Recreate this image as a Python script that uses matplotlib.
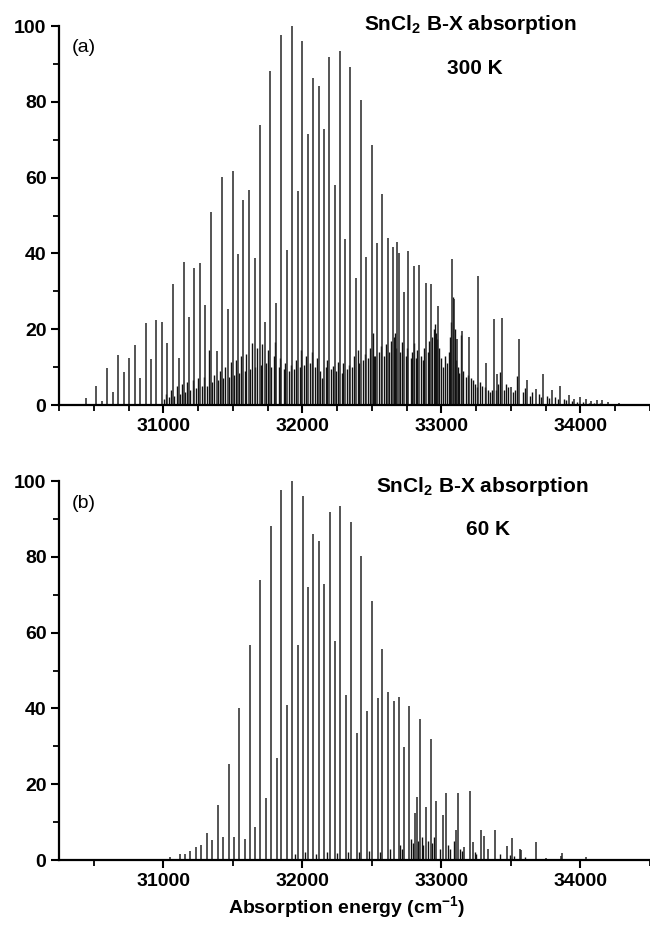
import matplotlib
matplotlib.use("Agg")
import matplotlib.pyplot as plt
from matplotlib.ticker import MultipleLocator

plt.rcParams['font.family'] = ['Liberation Sans', 'DejaVu Sans']
plt.rcParams['mathtext.fontset'] = 'custom'
plt.rcParams['mathtext.rm'] = 'Liberation Sans'
plt.rcParams['mathtext.bf'] = 'Liberation Sans:bold'
plt.rcParams['mathtext.default'] = 'bf'

# ---------------- Panel (a): 300 K ----------------
a_energy = [30362, 30441, 30519, 30560, 30596, 30639, 30676, 30717, 30753, 30796,
            30831, 30874, 30912, 30950, 30993, 31026, 31067, 31110, 31148, 31186,
            31224, 31264, 31303, 31343, 31384, 31420, 31462, 31498, 31538, 31575,
            31616, 31657, 31693, 31731, 31769, 31814, 31850, 31888, 31926, 31967,
            32001, 32040, 32079, 32119, 32155, 32193, 32232, 32269, 32309, 32346,
            32388, 32423, 32460, 32498, 32536, 32575, 32614, 32655, 32684, 32696,
            32733, 32762, 32803, 32841, 32889, 32922, 32976, 33077, 33089, 33112,
            33146, 33196, 33265, 33324, 33379, 33400, 33436, 33500, 33557, 33612,
            33679, 33734, 33798, 33855, 33914, 33957, 33998, 34038, 34079, 34117,
            34157, 34198, 34274]
a_int = [0.3, 1.8, 5.1, 1.0, 9.7, 3.5, 13.2, 8.7, 12.3, 15.8,
         7.0, 21.7, 12.1, 22.4, 22.0, 16.4, 32.0, 12.5, 37.8, 23.3,
         36.2, 37.4, 26.4, 51.0, 14.2, 60.2, 25.2, 61.7, 39.8, 54.0,
         56.7, 38.9, 74.0, 22.0, 88.2, 27.0, 97.6, 40.9, 100.0, 56.5,
         96.0, 71.6, 86.2, 84.2, 72.9, 91.7, 58.0, 93.5, 43.7, 89.3,
         33.4, 80.5, 39.1, 68.6, 42.7, 55.8, 44.0, 41.8, 43.0, 40.0,
         29.9, 40.6, 36.7, 37.0, 32.3, 31.9, 26.0, 38.4, 28.0, 17.3,
         19.5, 18.0, 34.0, 11.2, 22.8, 8.2, 22.9, 4.7, 17.4, 6.6,
         4.2, 8.2, 4.0, 5.0, 2.6, 1.6, 2.2, 1.6, 1.0, 1.3,
         1.3, 0.8, 0.5]

# hot-band lines visible only at 300 K
a_hot_energy = [31005, 31018, 31040, 31058, 31078, 31095, 31118, 31135, 31158, 31172,
                31195, 31212, 31235, 31250, 31275, 31290, 31312, 31326, 31352, 31368,
                31392, 31405, 31430, 31445, 31470, 31484, 31508, 31522, 31548, 31562,
                31585, 31598, 31625, 31636, 31662, 31676, 31700, 31712, 31740, 31752,
                31778, 31795, 31805, 31830, 31842, 31868, 31878, 31905, 31915, 31940,
                31952, 31980, 31990, 32015, 32028, 32055, 32066, 32092, 32105, 32130,
                32142, 32168, 32180, 32206, 32218, 32245, 32256, 32282, 32295, 32320,
                32332, 32358, 32370, 32400, 32410, 32435, 32448, 32472, 32485, 32505,
                32515, 32526, 32550, 32562, 32588, 32600, 32625, 32640, 32662, 32669,
                32675, 32705, 32715, 32745, 32752, 32780, 32792, 32800, 32815, 32825,
                32855, 32865, 32878, 32900, 32912, 32935, 32945, 32955, 32962, 32968,
                32985, 32995, 33010, 33025, 33040, 33055, 33065, 33072, 33084, 33095,
                33104, 33118, 33130, 33140, 33158, 33175, 33188, 33210, 33225, 33240,
                33255, 33280, 33295, 33310, 33335, 33350, 33365, 33395, 33410, 33420,
                33450, 33465, 33480, 33515, 33530, 33545, 33585, 33600, 33640, 33655,
                33700, 33715, 33760, 33775, 33820, 33835, 33880, 33895, 33940, 33975,
                34020, 34060, 34100, 34140]
a_hot_int = [1.5, 3.0, 2.0, 4.0, 2.5, 5.0, 3.0, 5.5, 3.5, 6.0,
             4.0, 6.5, 4.5, 7.0, 5.0, 7.5, 5.0, 14.5, 6.0, 8.0,
             6.5, 9.0, 7.0, 10.0, 7.5, 11.4, 8.0, 12.0, 8.5, 12.8,
             9.0, 13.5, 9.5, 16.3, 10.0, 15.0, 10.5, 16.0, 11.0, 14.5,
             10.0, 13.0, 16.7, 10.0, 12.3, 9.5, 11.0, 9.0, 10.5, 9.5,
             12.0, 10.0, 14.5, 10.5, 13.0, 11.0, 14.0, 10.0, 12.5, 9.0,
             7.0, 10.0, 12.0, 9.5, 10.3, 9.0, 11.4, 8.5, 11.0, 9.5,
             10.5, 10.0, 13.0, 14.5, 11.0, 12.0, 13.5, 12.5, 15.0, 19.0,
             13.0, 12.8, 14.0, 15.5, 13.0, 16.0, 14.0, 17.0, 18.0, 19.0,
             15.0, 14.0, 16.5, 13.0, 15.0, 12.5, 14.0, 16.3, 12.3, 14.5,
             13.0, 12.0, 15.0, 14.0, 17.0, 18.0, 20.0, 21.5, 19.0, 17.3,
             15.0, 12.3, 10.0, 13.0, 11.0, 14.0, 18.0, 22.0, 28.6, 20.0,
             12.0, 10.0, 8.5, 18.5, 9.0, 7.3, 8.0, 7.0, 6.6, 5.5,
             4.8, 6.0, 5.0, 4.8, 4.0, 3.5, 4.0, 4.0, 5.5, 8.8,
             4.0, 5.5, 4.8, 3.5, 4.0, 7.7, 3.5, 4.4, 2.4, 3.5,
             3.0, 2.0, 2.4, 1.8, 2.0, 1.5, 1.6, 1.2, 1.0, 0.8,
             0.7, 0.6, 0.5, 0.5]

# ---------------- Panel (b): 60 K ----------------
b_energy = [31048, 31119, 31155, 31195, 31236, 31274, 31312, 31350, 31390, 31431,
            31469, 31507, 31545, 31586, 31620, 31662, 31695, 31741, 31771, 31815,
            31850, 31891, 31928, 31968, 32002, 32042, 32080, 32119, 32157, 32196,
            32234, 32270, 32314, 32347, 32391, 32423, 32467, 32499, 32541, 32576,
            32617, 32657, 32693, 32734, 32769, 32810, 32821, 32848, 32889, 32924,
            32960, 33012, 33031, 33107, 33117, 33160, 33203, 33224, 33286, 33305,
            33333, 33388, 33474, 33505, 33564, 33575, 33679, 33750, 33860, 33869,
            34043]
b_int = [0.7, 1.5, 1.5, 2.4, 3.3, 4.0, 7.2, 5.3, 14.5, 6.2,
         25.3, 6.2, 40.0, 5.5, 56.7, 8.8, 73.9, 16.3, 88.2, 27.0,
         97.6, 40.9, 100.0, 56.6, 96.0, 71.9, 86.0, 84.2, 72.7, 91.7,
         57.8, 93.4, 43.5, 89.3, 33.6, 80.3, 39.4, 68.4, 42.8, 55.7,
         44.2, 42.0, 43.1, 29.9, 40.6, 12.3, 16.7, 37.1, 14.1, 31.8,
         15.6, 11.9, 17.6, 8.0, 17.6, 3.5, 18.3, 4.8, 7.9, 6.3,
         3.0, 7.9, 3.7, 5.7, 2.8, 2.6, 4.8, 0.6, 1.0, 1.8,
         0.9]
# weak lines near the baseline at 60 K
b_weak_energy = [31950, 32020, 32100, 32175, 32250, 32330, 32405, 32480, 32555, 32630,
                 32705, 32715, 32780, 32795, 32830, 32860, 32870, 32900, 32935, 32945,
                 32990, 33050, 33060, 33090, 33135, 33145, 33240, 33250, 33420, 33490,
                 33520, 33600]
b_weak_int = [1.5, 2.0, 1.5, 2.0, 1.8, 2.2, 2.0, 2.5, 2.0, 3.0,
              4.0, 3.0, 5.5, 4.5, 5.0, 6.0, 4.0, 5.0, 4.5, 6.0,
              3.0, 4.0, 3.0, 5.0, 3.0, 2.5, 2.0, 1.5, 1.5, 1.2,
              1.0, 0.8]

x_label = 'Absorption energy (cm$^{-1}$)'
title_text = 'SnCl$_2$ B-X absorption'

fig = plt.figure(figsize=(6.5, 9.3), dpi=100)
W, H = 650.0, 930.0
ax_a = fig.add_axes([59 / W, 1 - 405 / H, 591 / W, 379 / H])
ax_b = fig.add_axes([59 / W, 1 - 860 / H, 591 / W, 379 / H])

line_col = '#262626'
ax_a.vlines(a_hot_energy, 0, a_hot_int, color='#111111', lw=1.0)
ax_a.vlines(a_energy, 0, a_int, color=line_col, lw=1.1)
ax_b.vlines(b_weak_energy, 0, b_weak_int, color='#111111', lw=1.0)
ax_b.vlines(b_energy, 0, b_int, color=line_col, lw=1.1)

for ax, minor_x in ((ax_a, 250), (ax_b, 500)):
    ax.set_xlim(30250, 34500)
    ax.set_ylim(0, 100)
    for s in ('top', 'right'):
        ax.spines[s].set_visible(False)
    for s in ('left', 'bottom'):
        ax.spines[s].set_linewidth(1.6)
    ax.xaxis.set_major_locator(MultipleLocator(1000))
    ax.xaxis.set_minor_locator(MultipleLocator(minor_x))
    ax.yaxis.set_major_locator(MultipleLocator(20))
    ax.yaxis.set_minor_locator(MultipleLocator(10))
    ax.tick_params(which='major', direction='out', length=6, width=1.5,
                   labelsize=14, pad=3)
    ax.tick_params(which='minor', direction='out', length=4, width=1.3)
    ax.set_xticks([31000, 32000, 33000, 34000])
    for lab in ax.get_xticklabels() + ax.get_yticklabels():
        lab.set_fontweight('bold')

fig.text(72 / W, 1 - 48 / H, '(a)', fontsize=14, va='center', ha='left')
fig.text(72 / W, 1 - 503 / H, '(b)', fontsize=14, va='center', ha='left')
fig.text(470 / W, 1 - 24 / H, title_text, fontsize=15, fontweight='bold',
         ha='center', va='center')
fig.text(475 / W, 1 - 69 / H, '300 K', fontsize=15, fontweight='bold',
         ha='center', va='center')
fig.text(482 / W, 1 - 486 / H, title_text, fontsize=15, fontweight='bold',
         ha='center', va='center')
fig.text(488 / W, 1 - 529 / H, '60 K', fontsize=15, fontweight='bold',
         ha='center', va='center')
fig.text(347 / W, 1 - 907 / H, x_label, fontsize=14, fontweight='bold',
         ha='center', va='center')

fig.savefig('out.png', dpi=100, facecolor='white')
